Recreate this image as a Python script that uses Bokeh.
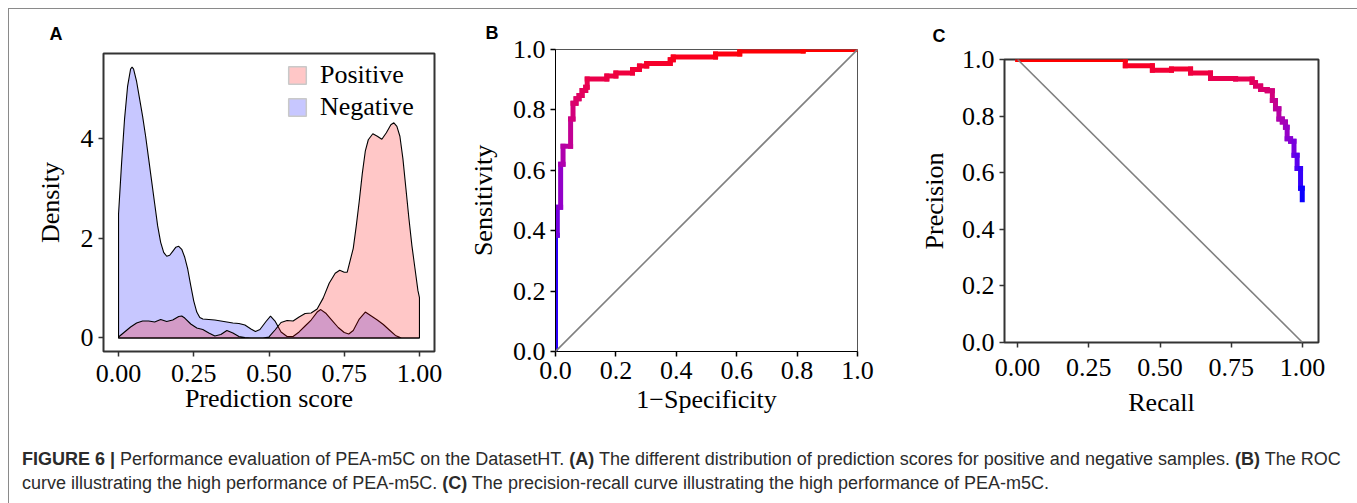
import numpy as np
from bokeh.plotting import figure
from bokeh.models import (ColumnDataSource, FixedTicker, Legend, LegendItem, Div,
                          Range1d, Slope)
from bokeh.layouts import row, column
from bokeh.embed import file_html
from bokeh.resources import INLINE
from bokeh.transform import linear_cmap

# ---------------- data ----------------
neg_x = [0.00, 0.01, 0.02, 0.03, 0.04, 0.045, 0.05, 0.06, 0.07, 0.08, 0.09, 0.10, 0.11, 0.12,
         0.13, 0.14, 0.15, 0.16, 0.17, 0.18, 0.19, 0.20, 0.21, 0.22, 0.23, 0.24, 0.25, 0.26,
         0.27, 0.28, 0.30, 0.32, 0.34, 0.36, 0.38, 0.40, 0.42, 0.44, 0.455, 0.47, 0.49, 0.505,
         0.52, 0.54, 0.56, 0.58, 0.60, 0.62, 0.64, 0.66, 0.672, 0.69, 0.71, 0.73, 0.75, 0.765,
         0.78, 0.80, 0.82, 0.84, 0.86, 0.88, 0.90, 0.92, 0.94, 1.00]
neg_y = [2.49, 3.50, 4.40, 5.05, 5.40, 5.44, 5.40, 5.15, 4.80, 4.45, 4.05, 3.60, 3.15, 2.70,
         2.25, 1.92, 1.72, 1.64, 1.66, 1.74, 1.82, 1.84, 1.78, 1.62, 1.38, 1.05, 0.74, 0.52,
         0.41, 0.38, 0.37, 0.36, 0.34, 0.32, 0.30, 0.29, 0.26, 0.18, 0.13, 0.17, 0.33, 0.44,
         0.34, 0.12, 0.03, 0.03, 0.12, 0.24, 0.36, 0.52, 0.57, 0.49, 0.35, 0.21, 0.11, 0.08,
         0.15, 0.38, 0.52, 0.44, 0.36, 0.27, 0.16, 0.05, 0.00, 0.00]

pos_x = [0.00, 0.02, 0.04, 0.06, 0.08, 0.10, 0.12, 0.14, 0.16, 0.18, 0.20, 0.21, 0.22, 0.24,
         0.26, 0.28, 0.30, 0.32, 0.34, 0.36, 0.38, 0.40, 0.42, 0.44, 0.48, 0.50, 0.52, 0.54,
         0.56, 0.58, 0.60, 0.62, 0.64, 0.66, 0.68, 0.70, 0.72, 0.735, 0.75, 0.76, 0.78, 0.79,
         0.80, 0.81, 0.82, 0.83, 0.845, 0.86, 0.875, 0.89, 0.905, 0.915, 0.925, 0.935, 0.945,
         0.955, 0.965, 0.975, 0.985, 0.995, 1.00]
pos_y = [0.02, 0.12, 0.22, 0.30, 0.34, 0.34, 0.32, 0.37, 0.33, 0.36, 0.43, 0.44, 0.40, 0.28,
         0.20, 0.17, 0.10, 0.04, 0.07, 0.15, 0.10, 0.03, 0.01, 0.00, 0.00, 0.02, 0.16, 0.31,
         0.35, 0.34, 0.42, 0.49, 0.50, 0.58, 0.80, 1.10, 1.30, 1.36, 1.32, 1.32, 1.80, 2.25,
         2.75, 3.30, 3.75, 3.98, 4.10, 4.05, 3.99, 4.12, 4.28, 4.32, 4.25, 4.05, 3.60,
         3.00, 2.40, 1.85, 1.40, 0.95, 0.81]

roc_fpr = [0.0, 0.0, 0.006, 0.006, 0.017, 0.017, 0.025, 0.025, 0.05, 0.05, 0.058, 0.058,
           0.068, 0.068, 0.078, 0.078, 0.088, 0.088, 0.1, 0.1, 0.105, 0.105, 0.17, 0.17,
           0.2, 0.2, 0.255, 0.255, 0.278, 0.278, 0.302, 0.302, 0.38, 0.38, 0.39, 0.39,
           0.53, 0.53, 0.61, 0.61, 0.82, 0.82, 1.0]
roc_tpr = [0.0, 0.385, 0.385, 0.478, 0.478, 0.62, 0.62, 0.68, 0.68, 0.77, 0.77, 0.822,
           0.822, 0.837, 0.837, 0.848, 0.848, 0.864, 0.864, 0.875, 0.875, 0.902, 0.902, 0.912,
           0.912, 0.922, 0.922, 0.934, 0.934, 0.945, 0.945, 0.954, 0.954, 0.966, 0.966, 0.975,
           0.975, 0.985, 0.985, 0.995, 0.995, 1.0, 1.0]

pr_recall = [0.0, 0.378, 0.378, 0.473, 0.473, 0.54, 0.54, 0.607, 0.607, 0.677, 0.677, 0.765,
             0.765, 0.823, 0.823, 0.835, 0.835, 0.853, 0.853, 0.876, 0.876, 0.894, 0.894,
             0.905, 0.905, 0.917, 0.917, 0.929, 0.929, 0.94, 0.94, 0.946, 0.946, 0.958, 0.958,
             0.97, 0.97, 0.981, 0.981, 0.993, 0.993, 0.999, 0.999]
pr_precision = [1.0, 1.0, 0.978, 0.978, 0.962, 0.962, 0.966, 0.966, 0.952, 0.952, 0.933, 0.933,
                0.931, 0.931, 0.919, 0.919, 0.906, 0.906, 0.894, 0.894, 0.89, 0.89, 0.855,
                0.855, 0.826, 0.826, 0.79, 0.79, 0.779, 0.779, 0.761, 0.761, 0.72, 0.72, 0.711,
                0.711, 0.662, 0.662, 0.615, 0.615, 0.545, 0.545, 0.504]

a_xticks = [0.0, 0.25, 0.5, 0.75, 1.0]
a_xlabels = ["0.00", "0.25", "0.50", "0.75", "1.00"]
a_yticks = [0, 2, 4]
a_ylabels = ["0", "2", "4"]
b_ticks = [0.0, 0.2, 0.4, 0.6, 0.8, 1.0]
b_labels = ["0.0", "0.2", "0.4", "0.6", "0.8", "1.0"]

series_names = ["Positive", "Negative"]
caption_html = ("<b>FIGURE 6 |</b> Performance evaluation of PEA-m5C on the DatasetHT. "
                "<b>(A)</b> The different distribution of prediction scores for positive and "
                "negative samples. <b>(B)</b> The ROC<br>curve illustrating the high performance "
                "of PEA-m5C. <b>(C)</b> The precision-recall curve illustrating the high "
                "performance of PEA-m5C.")

# ---------------- styling helpers ----------------
SERIF = "Liberation Serif"
SANS = "Liberation Sans"
FS = "26px"


def lab_palette(n=256, power=2.0):
    def srgb2lin(c):
        c = np.asarray(c, float) / 255
        return np.where(c <= 0.04045, c / 12.92, ((c + 0.055) / 1.055) ** 2.4)

    M = np.array([[0.4124, 0.3576, 0.1805], [0.2126, 0.7152, 0.0722], [0.0193, 0.1192, 0.9505]])
    Mi = np.linalg.inv(M)
    wp = np.array([0.95047, 1.0, 1.08883])

    def f(t):
        return np.where(t > 0.008856, np.cbrt(t), 7.787 * t + 16 / 116)

    def finv(t):
        return np.where(t > 0.2069, t ** 3, (t - 16 / 116) / 7.787)

    def to_lab(rgb):
        xyz = M @ srgb2lin(rgb) / wp
        fx, fy, fz = f(xyz)
        return np.array([116 * fy - 16, 500 * (fx - fy), 200 * (fy - fz)])

    def to_hex(lab):
        L, a, b = lab
        fy = (L + 16) / 116
        xyz = np.array([finv(fy + a / 500), finv(fy), finv(fy - b / 200)]) * wp
        lin = np.clip(Mi @ xyz, 0, 1)
        s = np.where(lin <= 0.0031308, 12.92 * lin, 1.055 * lin ** (1 / 2.4) - 0.055)
        r, g, b2 = (np.clip(s, 0, 1) * 255).round().astype(int)
        return "#%02x%02x%02x" % (r, g, b2)

    lo, hi = to_lab([0, 0, 255]), to_lab([255, 0, 0])
    return [to_hex(lo + (hi - lo) * (t ** power)) for t in np.linspace(0, 1, n)]


PAL_ROC = lab_palette(power=2.5)
PAL_PR = lab_palette(power=2.0)


def style(p, tick_color, axis_color, xticks, xlabels, yticks, ylabels, xlab, ylab,
          x_std, x_lab_std, y_lab_std):
    p.grid.visible = False
    p.xaxis.ticker = FixedTicker(ticks=xticks)
    p.yaxis.ticker = FixedTicker(ticks=yticks)
    p.xaxis.major_label_overrides = dict(zip(xticks, xlabels))
    p.yaxis.major_label_overrides = dict(zip(yticks, ylabels))
    p.xaxis.axis_label = xlab
    p.yaxis.axis_label = ylab
    for ax in p.axis:
        ax.major_label_text_font = SERIF
        ax.major_label_text_font_size = FS
        ax.major_label_text_color = "black"
        ax.axis_label_text_font = SERIF
        ax.axis_label_text_font_size = FS
        ax.axis_label_text_font_style = "normal"
        ax.axis_label_text_color = "black"
        ax.major_tick_out = 5
        ax.major_tick_in = 0
        ax.major_tick_line_color = tick_color
        ax.major_tick_line_width = 1.5
        ax.minor_tick_line_color = None
        ax.axis_line_color = axis_color
    p.xaxis.major_label_standoff = x_std
    p.xaxis.axis_label_standoff = x_lab_std
    p.yaxis.major_label_standoff = 5
    p.yaxis.axis_label_standoff = y_lab_std
    p.background_fill_color = "white"
    p.border_fill_color = "white"


def panel_title(p, letter, offset, pad):
    p.title.text = letter
    p.title.text_font = SANS
    p.title.text_font_size = "18px"
    p.title.text_font_style = "bold"
    p.title.text_color = "black"
    p.title.align = "left"
    p.title.padding = pad
    p.title.offset = offset - pad


H = 433

# ---------------- panel A ----------------
pA = figure(width=442, height=H, x_range=Range1d(-0.05, 1.05), y_range=Range1d(-0.272, 5.712),
            output_backend="svg", toolbar_location=None,
            min_border_left=94, min_border_right=17, min_border_top=44, min_border_bottom=91)
style(pA, "#333333", None, a_xticks, a_xlabels, a_yticks, a_ylabels, "Prediction score", "Density",
      8, -1, 13)
pA.outline_line_color = "#333333"
pA.outline_line_width = 2
panel_title(pA, "A", -54, 5)

neg_src = ColumnDataSource(dict(x=[neg_x[0]] + neg_x + [neg_x[-1]], y=[0] + neg_y + [0]))
pos_src = ColumnDataSource(dict(x=[pos_x[0]] + pos_x + [pos_x[-1]], y=[0] + pos_y + [0]))
pA.patch("x", "y", source=neg_src, fill_color="#0000ff", fill_alpha=0.22,
         line_color="black", line_width=1.1)
pA.patch("x", "y", source=pos_src, fill_color="#ff0000", fill_alpha=0.22,
         line_color="black", line_width=1.1)
kpos = pA.patch([np.nan], [np.nan], fill_color="#ff0000", fill_alpha=0.22,
                line_color="#c9c9c9", line_width=1.5)
kneg = pA.patch([np.nan], [np.nan], fill_color="#0000ff", fill_alpha=0.22,
                line_color="#c9c9c9", line_width=1.5)
leg = Legend(items=[LegendItem(label=series_names[0], renderers=[kpos]),
                    LegendItem(label=series_names[1], renderers=[kneg])],
             location=(183, 229), border_line_color=None, background_fill_alpha=0,
             padding=0, margin=0, spacing=2, glyph_width=22, glyph_height=22, label_standoff=12,
             label_text_font=SERIF, label_text_font_size=FS, label_text_color="black",
             label_height=22)
pA.add_layout(leg)

# ---------------- panel B ----------------
pB = figure(width=450, height=H, x_range=Range1d(0, 1), y_range=Range1d(0, 1),
            output_backend="svg", toolbar_location=None,
            min_border_left=104, min_border_right=44, min_border_top=40, min_border_bottom=91)
style(pB, "black", "black", b_ticks, b_labels, b_ticks, b_labels, "1\u2212Specificity", "Sensitivity",
      5, 3, 12)
pB.outline_line_color = "#555555"
pB.outline_line_width = 1
panel_title(pB, "B", -70, 2)
pB.add_layout(Slope(gradient=1, y_intercept=0, line_color="#808080", line_width=1.6))
roc_src = ColumnDataSource(dict(x0=roc_fpr[:-1], x1=roc_fpr[1:], y0=roc_tpr[:-1], y1=roc_tpr[1:],
                                ym=[(a + b) / 2 for a, b in zip(roc_tpr[:-1], roc_tpr[1:])]))
pB.segment("x0", "y0", "x1", "y1", source=roc_src, line_width=5, line_cap="square",
           line_color=linear_cmap("ym", PAL_ROC, 0, 1))

# ---------------- panel C ----------------
pC = figure(width=447, height=H, x_range=Range1d(-0.046, 1.056), y_range=Range1d(0, 1),
            output_backend="svg", toolbar_location=None,
            min_border_left=103, min_border_right=30, min_border_top=48, min_border_bottom=100)
style(pC, "#333333", None, a_xticks, a_xlabels, b_ticks, b_labels, "Recall", "Precision",
      11, 9, 10)
pC.outline_line_color = "#333333"
pC.outline_line_width = 2
panel_title(pC, "C", -72, 9)
pC.add_layout(Slope(gradient=-1, y_intercept=1, line_color="#808080", line_width=1.6))
pr_src = ColumnDataSource(dict(x0=pr_recall[:-1], x1=pr_recall[1:], y0=pr_precision[:-1],
                               y1=pr_precision[1:],
                               ym=[(a + b) / 2 for a, b in zip(pr_precision[:-1], pr_precision[1:])]))
pC.segment("x0", "y0", "x1", "y1", source=pr_src, line_width=5, line_cap="square",
           line_color=linear_cmap("ym", PAL_PR, 0.5, 1))

# ---------------- caption & frame ----------------
cap = Div(text=caption_html, width=1339, height=60,
          styles={"font-family": SANS, "font-size": "18px", "line-height": "24px",
                  "color": "#2b2b2b", "padding-left": "8px", "padding-top": "0px",
                  "box-sizing": "border-box", "white-space": "nowrap"})

root = column(row(column(pA), column(pB), column(pC)), cap, margin=(8, 0, 0, 8),
              styles={"border-left": "1px solid #8a8a8a", "border-top": "1px solid #8a8a8a",
                      "border-right": "1px solid #8a8a8a"})

open("out.html", "w").write(file_html(root, INLINE))
